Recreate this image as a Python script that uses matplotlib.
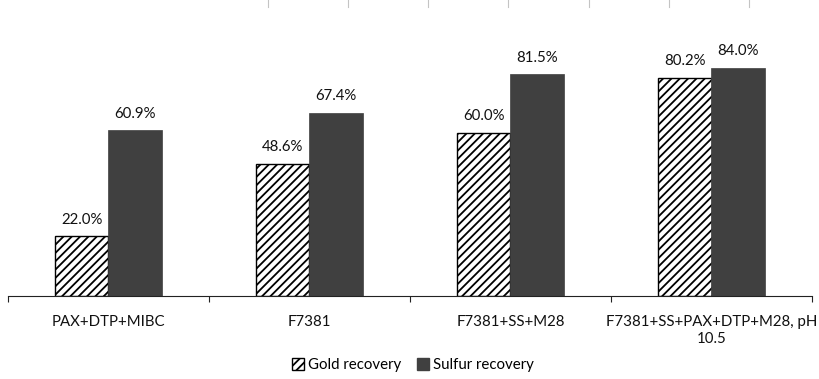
import matplotlib
matplotlib.use("Agg")
import matplotlib.pyplot as plt
from matplotlib.patches import Patch
from matplotlib.lines import Line2D
import numpy as np

categories = ["PAX+DTP+MIBC", "F7381", "F7381+SS+M28", "F7381+SS+PAX+DTP+M28, pH\n10.5"]
gold = [22.0, 48.6, 60.0, 80.2]
sulfur = [60.9, 67.4, 81.5, 84.0]
series_names = ["Gold recovery", "Sulfur recovery"]

plt.rcParams['font.family'] = ['Lato', 'DejaVu Sans']
plt.rcParams['hatch.linewidth'] = 1.3

fig = plt.figure(figsize=(8.2, 3.79), dpi=100)
ax = fig.add_axes([8/820, 83/379, 804/820, 272/379])

x = np.arange(len(categories))
w = 0.265
dark = "#404040"
b1 = ax.bar(x - w/2, gold, w, color="white", edgecolor="black", hatch="////", linewidth=1.0)
b2 = ax.bar(x + w/2, sulfur, w, color=dark, edgecolor=dark, linewidth=0.5)

for xi, v in zip(x, gold):
    ax.text(xi - w/2, v + 3.5, f"{v:.1f}%", ha="center", va="bottom", fontsize=10.8, color="#111111")
for xi, v in zip(x, sulfur):
    ax.text(xi + w/2, v + 3.5, f"{v:.1f}%", ha="center", va="bottom", fontsize=10.8, color="#111111")

ax.set_xlim(-0.5, len(categories) - 0.5)
ax.set_ylim(0, 100)
for s in ["top", "right", "left"]:
    ax.spines[s].set_visible(False)
ax.spines["bottom"].set_color("#222222")
ax.set_yticks([])
ax.set_xticks(np.arange(len(categories) + 1) - 0.5, minor=False)
ax.set_xticklabels([""] * (len(categories) + 1))
ax.tick_params(axis="x", which="major", length=4, color="#222222")
ax.set_xticks(x, minor=True)
ax.set_xticklabels(categories, minor=True, fontsize=10.8, color="#111111")
ax.tick_params(axis="x", which="minor", length=0, pad=14)

# small marks at the top edge (cropped gridline remnants)
for px in [268, 348, 428, 508, 589, 669, 749]:
    fig.add_artist(Line2D([px/820, px/820], [1.0, 1 - 7/379], color="#c4c4c4", lw=0.8))

handles = [Patch(facecolor="white", edgecolor="black", hatch="////"),
           Patch(facecolor=dark, edgecolor=dark)]
fig.legend(handles, series_names, loc="center", bbox_to_anchor=(413/820, 14/379), ncol=2,
           frameon=False, fontsize=10.8, handlelength=0.8, handleheight=0.8,
           handletextpad=0.3, columnspacing=1.0)

fig.savefig("out.png", dpi=100)
